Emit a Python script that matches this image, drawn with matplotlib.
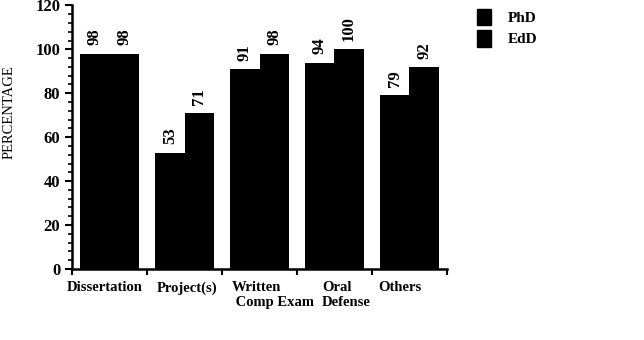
import matplotlib
matplotlib.use("Agg")
import matplotlib.pyplot as plt
from matplotlib.patches import Patch
from matplotlib.ticker import MultipleLocator
import numpy as np

categories = ["Dissertation", "Project(s)", "Written\n Comp Exam", "Oral\nDefense", "Others"]
phd = [98, 53, 91, 94, 79]
edd = [98, 71, 98, 100, 92]

plt.rcParams['font.family'] = ['Liberation Serif', 'DejaVu Serif']
plt.rcParams['font.weight'] = 'bold'

fig = plt.figure(figsize=(6.44, 3.4), dpi=100)
ax = fig.add_axes([0.112, 0.209, 0.582, 0.775])

x = np.arange(len(categories))
width = 0.39
b1 = ax.bar(x - width / 2, phd, width, color='black')
b2 = ax.bar(x + width / 2, edd, width, color='black')

for rects in (b1, b2):
    for r in rects:
        h = r.get_height()
        ax.annotate(str(h), xy=(r.get_x() + r.get_width() / 2, h),
                    xytext=(0, 6), textcoords="offset points",
                    ha='center', va='bottom', rotation=90,
                    fontsize=12, fontweight='bold')

ax.set_xlim(-0.5, len(categories) - 0.5)
ax.set_ylim(0, 120)
ax.yaxis.set_major_locator(MultipleLocator(20))
ax.yaxis.set_minor_locator(MultipleLocator(4))
ax.set_xticks(np.arange(len(categories) + 1) - 0.5)
ax.set_xticklabels([])
ax.tick_params(axis='x', which='major', length=4, width=1.5, direction='out')
ax.tick_params(axis='y', which='major', length=5, width=1.5, labelsize=12)
ax.tick_params(axis='y', which='minor', length=3, width=1.2)
for lab in ax.get_yticklabels():
    lab.set_fontweight('bold')

# category labels, placed roughly as in the scan
label_x = [-0.07, 1.03, 1.63, 2.83, 3.87]
label_ha = ['center', 'center', 'left', 'left', 'center']
for lx, ha, txt in zip(label_x, label_ha, categories):
    ax.text(lx, -5.5, txt, ha=ha, va='top', fontsize=10.5, fontweight='bold',
            linespacing=1.15)

for s in ('top', 'right'):
    ax.spines[s].set_visible(False)
for s in ('left', 'bottom'):
    ax.spines[s].set_linewidth(1.8)

fig.text(0.014, 0.67, "PERCENTAGE", rotation=90, ha='center', va='center',
         fontsize=10.5, fontweight='normal')

handles = [Patch(color='black', label='PhD'), Patch(color='black', label='EdD')]
fig.legend(handles=handles, loc='upper left', bbox_to_anchor=(0.72, 1.015),
           frameon=False, fontsize=11, handlelength=0.9, handleheight=1.3,
           handletextpad=1.1, labelspacing=0.3)

fig.savefig("out.png", dpi=100)
